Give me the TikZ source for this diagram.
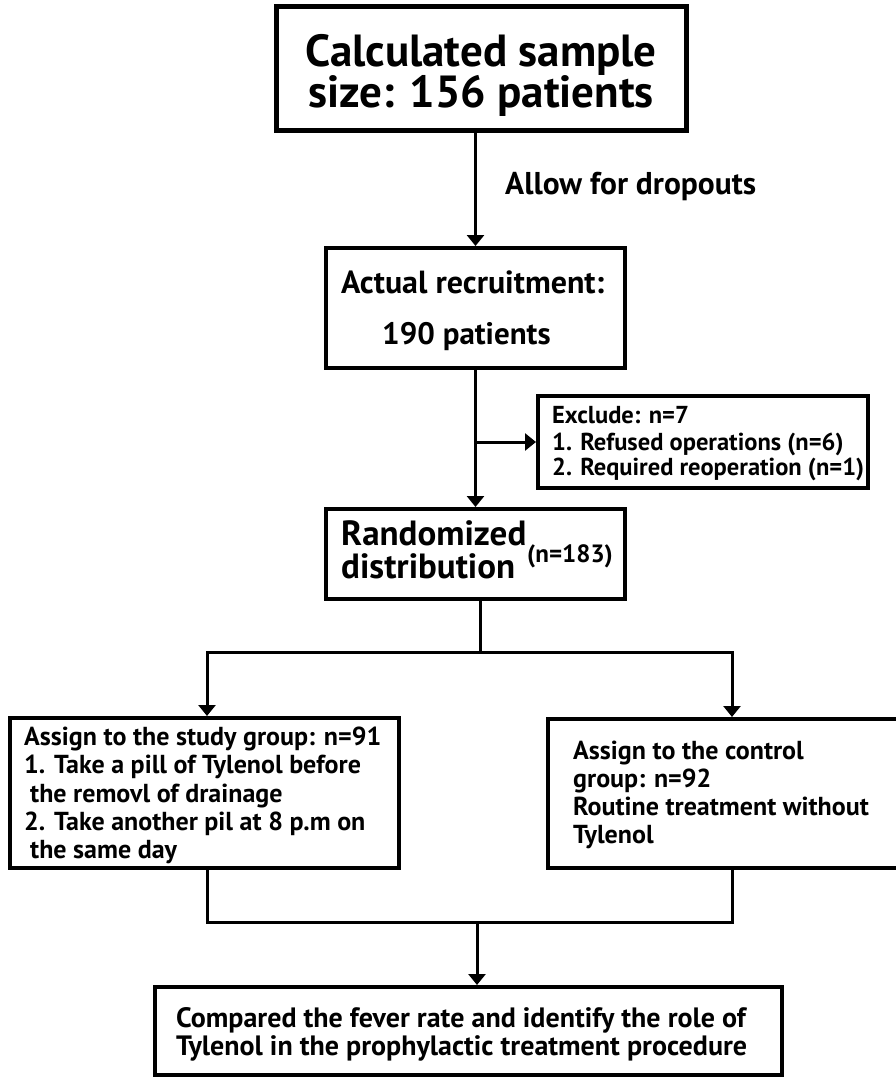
\documentclass[tikz,border=0pt]{standalone}
\usepackage{fontspec}
\setmainfont{PT Sans}
\usetikzlibrary{arrows.meta}
\begin{document}
\begin{tikzpicture}[x=1pt,y=-1pt,
  box/.style={draw=black, line width=4pt, fill=white, inner sep=0pt},
  txt/.style={inner sep=0pt, font=\fontsize{26}{28}\selectfont\bfseries},
  conn/.style={line width=3pt, line join=miter},
  arr/.style={conn, -{Triangle[width=17pt,length=11pt]}}]
\useasboundingbox (0,0) rectangle (895,1078);
\fill[white] (0,0) rectangle (895,1078);
% boxes
\node[box, line width=5pt, minimum width=410pt, minimum height=124pt] (top) at (481,69) {};
\node[box, minimum width=299pt, minimum height=120pt] (rec) at (475.5,308) {};
\node[box, minimum width=330pt, minimum height=92pt] (excl) at (703,442) {};
\node[box, minimum width=299pt, minimum height=90pt] (rand) at (475.5,554) {};
\node[box, minimum width=389pt, minimum height=150pt] (study) at (204.5,793) {};
\node[box, minimum width=352pt, minimum height=149pt] (ctrl) at (724,793.5) {};
\node[box, minimum width=627pt, minimum height=88pt] (res) at (468.5,1031) {};
% texts
\node[txt, font=\fontsize{45}{41}\selectfont\bfseries, anchor=base] (t1) at (481,67) {Calculated sample};
\node[txt, font=\fontsize{45}{41}\selectfont\bfseries, anchor=base] (t2) at (481,108) {size: 156 patients};
\node[txt, font=\fontsize{31.5}{30}\selectfont\bfseries, anchor=base west] (drop) at (505,195) {Allow for dropouts};
\node[txt, font=\fontsize{32}{30}\selectfont\bfseries, anchor=base west] (r1) at (341,293) {Actual recruitment:};
\node[txt, font=\fontsize{31}{30}\selectfont\bfseries, anchor=base west] (r2) at (382,344) {190 patients};
\node[txt, font=\fontsize{24.5}{26}\selectfont\bfseries, anchor=base west] (e1) at (552,423) {Exclude: n=7};
\node[txt, font=\fontsize{24.5}{26}\selectfont\bfseries, anchor=base west] (e2) at (552,450) {1. Refused operations (n=6)};
\node[txt, font=\fontsize{24.5}{26}\selectfont\bfseries, anchor=base west] (e3) at (552,475) {2. Required reoperation (n=1)};
\node[txt, font=\fontsize{35}{33}\selectfont\bfseries, anchor=base west] (d1) at (341,545) {Randomized};
\node[txt, font=\fontsize{35}{33}\selectfont\bfseries, anchor=base west] (d2) at (341,578) {distribution};
\node[txt, font=\fontsize{25}{25}\selectfont\bfseries, anchor=base west] (d3) at (527,562) {(n=183)};
\node[txt, anchor=base west] (s1) at (24,745) {Assign to the study group: n=91};
\node[txt, anchor=base west] (s2) at (24,773) {1. Take a pill of Tylenol before};
\node[txt, anchor=base west] (s3) at (30,802) {the removl of drainage};
\node[txt, anchor=base west] (s4) at (24,830) {2. Take another pil at 8 p.m on};
\node[txt, anchor=base west] (s5) at (30,858) {the same day};
\node[txt, anchor=base west] (c1) at (573,759) {Assign to the control};
\node[txt, anchor=base west] (c2) at (573,787) {group: n=92};
\node[txt, anchor=base west] (c3) at (573,815) {Routine treatment without};
\node[txt, anchor=base west] (c4) at (573,843) {Tylenol};
\node[txt, font=\fontsize{28}{28}\selectfont\bfseries, anchor=base west] (b1) at (176,1027) {Compared the fever rate and identify the role of};
\node[txt, font=\fontsize{28}{28}\selectfont\bfseries, anchor=base west] (b2) at (176,1055) {Tylenol in the prophylactic treatment procedure};
% connectors
\coordinate (s) at (480,652);
\coordinate (ls) at (207,652);
\coordinate (rs) at (732,652);
\coordinate (lj) at (207,922);
\coordinate (rj) at (732,922);
\coordinate (cj) at (477,922);
\draw[arr] (rec.north |- top.south) -- (rec.north);
\draw[arr] (rec.south) -- (rand.north);
\draw[arr] (rec.south |- excl.west) -- (excl.west);
\draw[conn] (s |- rand.south) -- (s);
\draw[arr] (s) -- (ls) -- (ls |- study.north);
\draw[arr] (s) -- (rs) -- (rs |- ctrl.north);
\draw[conn] (ls |- study.south) -- (lj) -- (rj) -- (rs |- ctrl.south);
\draw[arr] (cj) -- (cj |- res.north);
\end{tikzpicture}
\end{document}
